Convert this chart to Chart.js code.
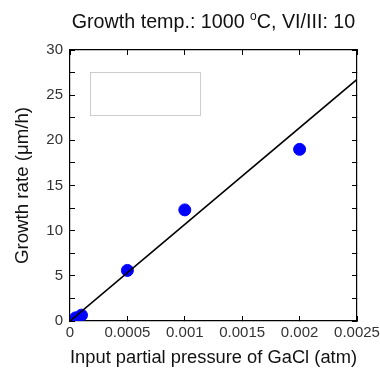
<!DOCTYPE html>
<html>
<head>
<meta charset="utf-8">
<script src="https://cdn.jsdelivr.net/npm/chart.js@4"></script>
<style>
html, body { margin: 0; padding: 0; background: #fff; }
#wrap { width: 380px; height: 369px; position: relative; }
</style>
</head>
<body>
<div id="wrap"><canvas id="myChart"></canvas></div>
<script>
const pressure = [0.00005, 0.0001, 0.0005, 0.001, 0.002];
const rate = [0.35, 0.65, 5.6, 12.3, 19.0];
const fitX = [0, 0.0025];
const fitY = [0, 26.75];
const xTickLabels = ['0', '0.0005', '0.001', '0.0015', '0.002', '0.0025'];
const yTickLabels = ['0', '5', '10', '15', '20', '25', '30'];

const FONT = "'Liberation Sans', Arial, sans-serif";
const TICK_COLOR = '#333';

// title with superscript "o", centered over the plot area
const titlePlugin = {
  id: 'plotTitle',
  afterDraw(chart) {
    const c = chart.ctx, a = chart.chartArea;
    const parts = [
      { t: 'Growth temp.: 1000 ', f: '19.7px ' + FONT, dy: 0 },
      { t: 'o', f: '12px ' + FONT, dy: -8 },
      { t: 'C, VI/III: 10', f: '19.7px ' + FONT, dy: 0 }
    ];
    c.save();
    let w = 0;
    parts.forEach(p => { c.font = p.f; p.w = c.measureText(p.t).width; w += p.w; });
    let x = (a.left + a.right) / 2 - w / 2;
    c.fillStyle = '#111';
    c.textBaseline = 'alphabetic';
    parts.forEach(p => { c.font = p.f; c.fillText(p.t, x, 28 + p.dy); x += p.w; });
    c.restore();
  }
};

// empty legend frame
const legendBox = {
  id: 'legendBox',
  afterDraw(chart) {
    const c = chart.ctx, a = chart.chartArea;
    c.save();
    c.strokeStyle = '#cccccc';
    c.lineWidth = 1;
    c.strokeRect(Math.round(a.left + 20) + 0.5, Math.round(a.top + 22) + 0.5, 110, 43);
    c.restore();
  }
};

function xLabel(v) {
  const s = String(+v.toFixed(4));
  return xTickLabels.includes(s) ? s : '';
}
function yLabel(v) {
  const s = String(+v.toFixed(1));
  return yTickLabels.includes(s) ? s : '';
}

const edgeGrid = { drawOnChartArea: false, tickLength: -5, color: '#000', tickColor: '#000' };
const edgeBorder = { color: '#000', width: 1.2 };

new Chart(document.getElementById('myChart'), {
  type: 'scatter',
  data: {
    datasets: [
      {
        label: 'fit',
        type: 'line',
        data: fitX.map((x, i) => ({ x: x, y: fitY[i] })),
        borderColor: '#000',
        borderWidth: 1.6,
        pointRadius: 0,
        fill: false
      },
      {
        label: 'data',
        data: pressure.map((x, i) => ({ x: x, y: rate[i] })),
        backgroundColor: '#0000ff',
        borderColor: '#0000ff',
        pointRadius: 6,
        pointHoverRadius: 6
      }
    ]
  },
  options: {
    responsive: true,
    maintainAspectRatio: false,
    animation: false,
    layout: { padding: { left: 0, right: 0, top: 50, bottom: 0 } },
    plugins: {
      legend: { display: false },
      tooltip: { enabled: false }
    },
    scales: {
      x: {
        type: 'linear',
        position: 'bottom',
        min: 0,
        max: 0.0025,
        border: edgeBorder,
        grid: edgeGrid,
        ticks: {
          stepSize: 0.0005,
          autoSkip: false,
          maxRotation: 0,
          padding: 8,
          color: TICK_COLOR,
          font: { family: FONT, size: 15 },
          callback: xLabel
        },
        title: {
          display: true,
          text: 'Input partial pressure of GaCl (atm)',
          color: '#111',
          font: { family: FONT, size: 18.7 },
          padding: { top: 4, bottom: 0 }
        },
        afterFit(s) { s.height = 48; s.paddingRight = 23; s.paddingLeft = 0; }
      },
      y: {
        type: 'linear',
        position: 'left',
        min: 0,
        max: 30,
        border: edgeBorder,
        grid: edgeGrid,
        ticks: {
          stepSize: 2.5,
          autoSkip: false,
          padding: 12,
          color: TICK_COLOR,
          font: { family: FONT, size: 15 },
          callback: yLabel
        },
        title: {
          display: true,
          text: 'Growth rate (μm/h)',
          color: '#111',
          font: { family: FONT, size: 18.7 },
          padding: { top: 12, bottom: 8 }
        },
        afterFit(s) { s.width = 70; }
      },
      xTop: {
        type: 'linear',
        position: 'top',
        min: 0,
        max: 0.0025,
        border: edgeBorder,
        grid: edgeGrid,
        ticks: { stepSize: 0.0005, display: false },
        afterFit(s) { s.height = 0; s.paddingRight = 0; s.paddingLeft = 0; }
      },
      yRight: {
        type: 'linear',
        position: 'right',
        min: 0,
        max: 30,
        border: edgeBorder,
        grid: edgeGrid,
        ticks: { stepSize: 2.5, display: false },
        afterFit(s) { s.width = 0; s.paddingTop = 0; s.paddingBottom = 0; }
      }
    }
  },
  plugins: [titlePlugin, legendBox]
});
</script>
</body>
</html>
